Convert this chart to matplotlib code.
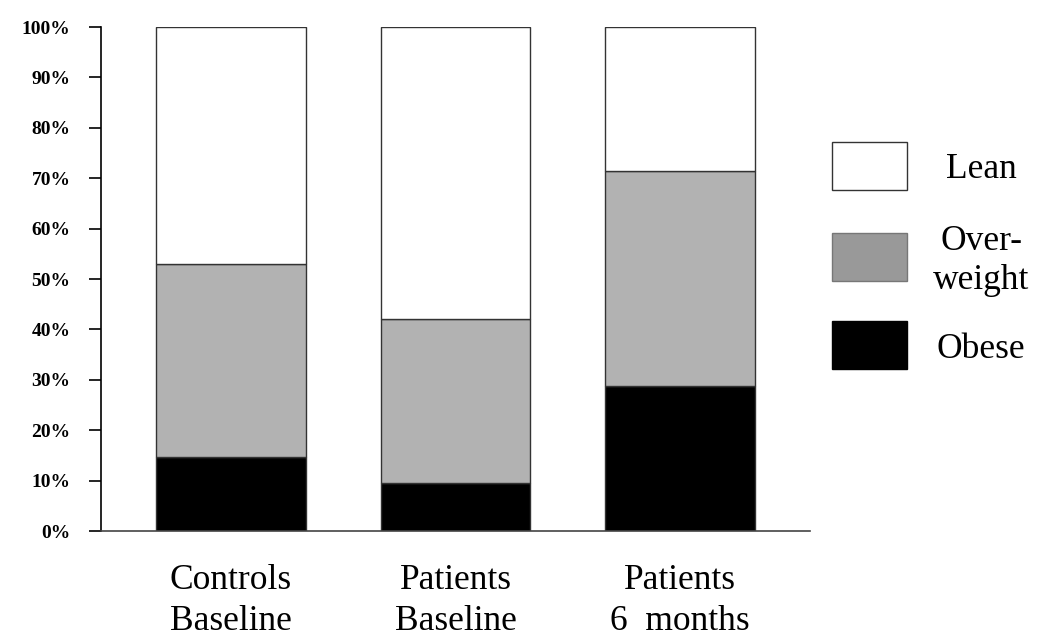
import numpy as np
import matplotlib
matplotlib.use("Agg")
import matplotlib.pyplot as plt
from matplotlib.patches import Rectangle

groups = ["Controls\nBaseline", "Patients\nBaseline", "Patients\n6  months"]
obese = [14.7, 9.5, 28.8]
overweight = [38.3, 32.5, 42.6]
lean = [47.0, 58.0, 28.6]
legend_labels = ["Lean", "Over-\nweight", "Obese"]

plt.rcParams['font.family'] = ['Liberation Serif', 'DejaVu Serif']

fig = plt.figure(figsize=(10.5, 6.44), dpi=100)
ax = fig.add_axes([101/1050, 1 - 531/644, (810-101)/1050, (531-27)/644])

x = np.arange(len(groups))
w = 0.668
ax.bar(x, obese, w, color='black', edgecolor='#333333', linewidth=1)
ax.bar(x, overweight, w, bottom=obese, color='#b2b2b2', edgecolor='#333333', linewidth=1)
bottom2 = np.array(obese) + np.array(overweight)
ax.bar(x, lean, w, bottom=bottom2, color='white', edgecolor='#333333', linewidth=1)

ax.set_xlim(-0.579, 2.579)
ax.set_ylim(0, 100)
ax.set_yticks(range(0, 101, 10))
ax.set_yticklabels([f"{v}%" for v in range(0, 101, 10)], fontsize=14, fontweight='bold')
ax.tick_params(axis='y', length=9, width=1.2, pad=13)
ax.set_xticks(x)
ax.set_xticklabels(groups, fontsize=25.5, linespacing=1.3)
ax.tick_params(axis='x', length=0, pad=24)
for s in ['top', 'right']:
    ax.spines[s].set_visible(False)
ax.spines['left'].set_linewidth(1.2)
ax.spines['bottom'].set_linewidth(1.2)
ax.spines['bottom'].set_color('#444444')

# legend drawn by hand
leg_fill = ['white', '#999999', 'black']
leg_edge = ['#333333', '#777777', 'black']
leg_y = [142, 233, 321]
for lbl, fc, ec, yy in zip(legend_labels, leg_fill, leg_edge, leg_y):
    fig.add_artist(Rectangle((832/1050, 1 - (yy+48)/644), 75/1050, 48/644,
                             transform=fig.transFigure, facecolor=fc,
                             edgecolor=ec, linewidth=1))
    fig.text(981/1050, 1 - (yy+28)/644, lbl, ha='center', va='center',
             fontsize=25.5, linespacing=1.25)

fig.savefig("out.png", dpi=100)
